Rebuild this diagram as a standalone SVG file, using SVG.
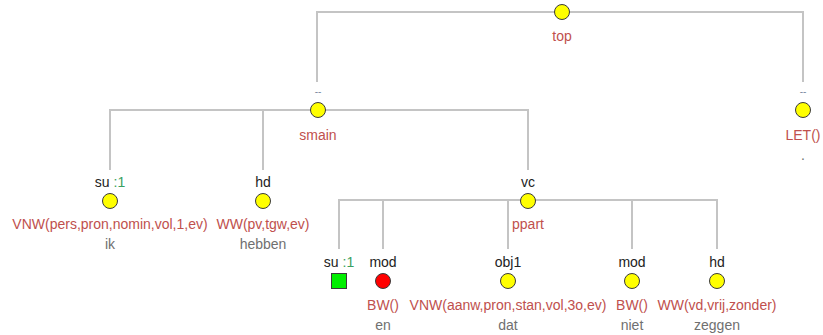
<svg xmlns="http://www.w3.org/2000/svg" width="823" height="335" viewBox="0 0 823 335">
<style>
text{font-family:"Liberation Sans",Arial,sans-serif;font-size:14px;text-anchor:middle}
.e{fill:#222}
.i{fill:#3aa060}
.d{fill:#7a8aa0;font-size:10px}
.p{fill:#c0504d}
.w{fill:#707070}
.n{fill:#ffff00;stroke:#3a3a3a;stroke-width:1}
.r{fill:#ff0000;stroke:#3a3a3a;stroke-width:1}
.s{fill:#00ee00;stroke:#3a3a3a;stroke-width:1}
#edges path{fill:none;stroke:#c4c4c4;stroke-width:2}
</style>
<rect width="823" height="335" fill="#fff"/>
<g id="edges">
<path d="M317 82V12H803V82"/>
<path d="M110 170V110H528V170M263 110V170"/>
<path d="M339 249V200H717V249M383 200V249M508 200V249M632 200V249"/>
</g>
<g id="n-top"><circle class="n" cx="562" cy="12" r="7.5"/><text class="p" x="562" y="41">top</text></g>
<g id="n-smain"><text class="d" x="318" y="95">--</text><circle class="n" cx="318" cy="110" r="7.5"/><text class="p" x="318" y="140">smain</text></g>
<g id="n-let"><text class="d" x="803" y="95">--</text><circle class="n" cx="803" cy="110" r="7.5"/><text class="p" x="803" y="140">LET()</text><text class="w" x="803" y="160">.</text></g>
<g id="n-su1"><text class="e" x="110" y="187">su <tspan class="i">:1</tspan></text><circle class="n" cx="110" cy="201" r="7.5"/><text class="p" x="110" y="229">VNW(pers,pron,nomin,vol,1,ev)</text><text class="w" x="110" y="249">ik</text></g>
<g id="n-hd1"><text class="e" x="263" y="187">hd</text><circle class="n" cx="263" cy="201" r="7.5"/><text class="p" x="263" y="229">WW(pv,tgw,ev)</text><text class="w" x="263" y="249">hebben</text></g>
<g id="n-vc"><text class="e" x="528" y="187">vc</text><circle class="n" cx="528" cy="201" r="7.5"/><text class="p" x="528" y="229">ppart</text></g>
<g id="n-su2"><text class="e" x="339" y="267">su <tspan class="i">:1</tspan></text><rect class="s" x="331.5" y="273.5" width="15" height="15"/></g>
<g id="n-mod1"><text class="e" x="383" y="267">mod</text><circle class="r" cx="383" cy="281" r="7.5"/><text class="p" x="383" y="310">BW()</text><text class="w" x="383" y="330">en</text></g>
<g id="n-obj1"><text class="e" x="508" y="267">obj1</text><circle class="n" cx="508" cy="281" r="7.5"/><text class="p" x="508" y="310">VNW(aanw,pron,stan,vol,3o,ev)</text><text class="w" x="508" y="330">dat</text></g>
<g id="n-mod2"><text class="e" x="632" y="267">mod</text><circle class="n" cx="632" cy="281" r="7.5"/><text class="p" x="632" y="310">BW()</text><text class="w" x="632" y="330">niet</text></g>
<g id="n-hd2"><text class="e" x="717" y="267">hd</text><circle class="n" cx="717" cy="281" r="7.5"/><text class="p" x="717" y="310">WW(vd,vrij,zonder)</text><text class="w" x="717" y="330">zeggen</text></g>
</svg>
